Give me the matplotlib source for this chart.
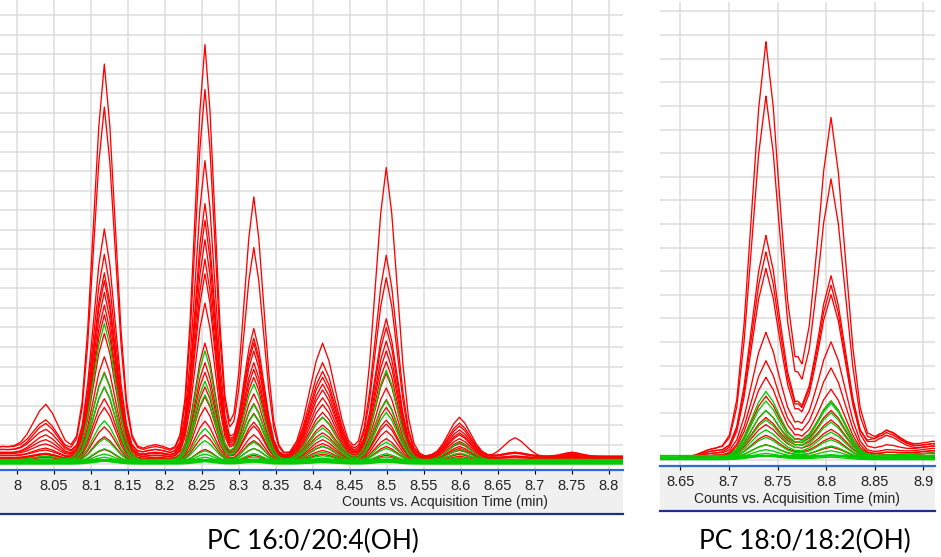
import numpy as np
import matplotlib.pyplot as plt
from matplotlib.patches import Rectangle
from matplotlib.lines import Line2D

plt.rcParams['font.family'] = ['Liberation Sans', 'DejaVu Sans']

# shape of one chromatographic peak:
# fraction of the apex height at offsets given in half-widths
shape_offsets = [-1.75, -1.5, -1.25, -1.0, -0.75, -0.5, -0.25, 0.0, 0.25, 0.5, 0.75, 1.0, 1.25, 1.5, 1.75]
shape_levels = [0.0, 0.011, 0.044, 0.135, 0.32, 0.58, 0.84, 1.0, 0.84, 0.58, 0.32, 0.135, 0.044, 0.011, 0.0]

# ---------------- PC 16:0/20:4(OH) ----------------
left_title = 'PC 16:0/20:4(OH)'
left_ticks = [8.0, 8.05, 8.1, 8.15, 8.2, 8.25, 8.3, 8.35, 8.4, 8.45, 8.5, 8.55, 8.6, 8.65, 8.7, 8.75, 8.8]
left_tick_labels = ['8', '8.05', '8.1', '8.15', '8.2', '8.25', '8.3', '8.35', '8.4', '8.45',
                    '8.5', '8.55', '8.6', '8.65', '8.7', '8.75', '8.8']
left_peak_times = [7.980, 8.039, 8.118, 8.187, 8.254, 8.320, 8.413, 8.499, 8.598, 8.673, 8.750]
left_peak_widths = [0.080, 0.034, 0.030, 0.042, 0.027, 0.027, 0.035, 0.030, 0.030, 0.030, 0.026]
# one row per trace: height of each peak above the trace baseline, last value = baseline
left_red = [
    [0.5, 2.5, 20.1, 0.6, 21.1, 13.3, 5.8, 14.8, 2.0, 0.2, 0.1, 0.4],
    [0.5, 1.7, 17.9, 0.5, 18.8, 10.7, 4.8, 10.3, 1.7, 0.2, 0.2, 0.4],
    [0.4, 1.6, 11.7, 0.4, 15.2, 6.6, 4.4, 9.2, 1.6, 0.2, 0.1, 0.35],
    [0.4, 1.3, 10.4, 0.4, 13.0, 6.1, 4.1, 7.1, 1.4, 1.0, 0.2, 0.35],
    [0.3, 1.1, 9.5, 0.3, 12.2, 5.9, 3.8, 6.7, 1.3, 0.1, 0.1, 0.3],
    [0.3, 0.85, 9.1, 0.3, 11.2, 5.5, 3.5, 6.0, 1.2, 0.1, 0.3, 0.3],
    [0.25, 0.65, 8.5, 0.25, 10.2, 4.9, 3.1, 5.5, 1.0, 0.1, 0.1, 0.3],
    [0.2, 0.5, 7.9, 0.2, 9.5, 4.6, 2.8, 5.0, 0.9, 0.1, 0.1, 0.25],
    [0.2, 0.4, 7.4, 0.2, 8.0, 4.2, 2.4, 4.4, 0.8, 0.0, 0.1, 0.25],
    [0.15, 0.3, 6.5, 0.15, 6.0, 3.4, 2.2, 3.7, 0.7, 0.0, 0.1, 0.2],
    [0.1, 0.3, 5.3, 0.1, 5.0, 2.9, 1.8, 3.1, 0.6, 0.0, 0.0, 0.2],
    [0.1, 0.25, 4.5, 0.1, 4.5, 2.4, 1.4, 2.7, 0.5, 0.0, 0.0, 0.2],
    [0.1, 0.2, 3.8, 0.05, 3.8, 2.0, 1.1, 2.1, 0.4, 0.0, 0.0, 0.15],
    [0.0, 0.2, 3.2, 0.05, 3.3, 1.8, 0.9, 1.9, 0.35, 0.0, 0.0, 0.15],
    [0.0, 0.1, 2.8, 0.0, 2.8, 1.4, 0.8, 1.6, 0.3, 0.0, 0.0, 0.1],
    [0.0, 0.1, 1.8, 0.0, 2.1, 1.1, 0.6, 1.2, 0.2, 0.0, 0.0, 0.1],
    [0.0, 0.0, 1.3, 0.0, 1.4, 0.7, 0.4, 0.8, 0.1, 0.0, 0.0, 0.1],
    [0.0, 0.0, 0.7, 0.0, 0.7, 0.4, 0.2, 0.4, 0.1, 0.0, 0.0, 0.05],
]
left_green = [
    [0.0, 0.2, 7.0, 0.0, 5.6, 3.9, 2.2, 4.6, 0.9, 0.0, 0.0, 0.2],
    [0.0, 0.1, 4.5, 0.0, 4.1, 2.9, 1.7, 3.1, 0.6, 0.0, 0.0, 0.15],
    [0.0, 0.1, 3.8, 0.0, 3.4, 2.4, 1.3, 2.5, 0.4, 0.0, 0.0, 0.15],
    [0.0, 0.0, 2.1, 0.0, 1.7, 1.0, 0.8, 1.0, 0.2, 0.0, 0.0, 0.12],
    [0.0, 0.0, 1.2, 0.0, 1.1, 0.7, 0.5, 0.7, 0.1, 0.0, 0.0, 0.1],
    [0.0, 0.0, 0.7, 0.0, 0.6, 0.45, 0.35, 0.45, 0.1, 0.0, 0.0, 0.08],
    [0.0, 0.0, 0.45, 0.0, 0.45, 0.3, 0.25, 0.3, 0.05, 0.0, 0.0, 0.06],
    [0.0, 0.0, 0.3, 0.0, 0.3, 0.2, 0.15, 0.2, 0.0, 0.0, 0.0, 0.05],
    [0.0, 0.0, 0.15, 0.0, 0.12, 0.1, 0.08, 0.1, 0.0, 0.0, 0.0, 0.0],
    [0.0, 0.0, 0.1, 0.0, 0.1, 0.08, 0.05, 0.08, 0.0, 0.0, 0.0, 0.04],
    [0.0, 0.0, 0.1, 0.0, 0.1, 0.05, 0.05, 0.05, 0.0, 0.0, 0.0, 0.08],
    [0.0, 0.0, 0.05, 0.0, 0.05, 0.05, 0.0, 0.05, 0.0, 0.0, 0.0, 0.12],
    [0.0, 0.0, 0.05, 0.0, 0.05, 0.0, 0.0, 0.05, 0.0, 0.0, 0.0, 0.16],
    [0.0, 0.0, 0.0, 0.0, 0.0, 0.0, 0.0, 0.0, 0.0, 0.0, 0.0, 0.2],
    [0.0, 0.0, 0.0, 0.0, 0.0, 0.0, 0.0, 0.0, 0.0, 0.0, 0.0, 0.25],
]

# ---------------- PC 18:0/18:2(OH) ----------------
right_title = 'PC 18:0/18:2(OH)'
right_ticks = [8.65, 8.7, 8.75, 8.8, 8.85, 8.9]
right_tick_labels = ['8.65', '8.7', '8.75', '8.8', '8.85', '8.9']
right_peak_times = [8.685, 8.738, 8.771, 8.805, 8.862, 8.910]
right_peak_widths = [0.025, 0.030, 0.022, 0.030, 0.028, 0.045]
right_red = [
    [0.4, 17.6, 1.3, 14.4, 1.1, 0.6, 0.1],
    [0.4, 15.3, 1.1, 11.8, 1.0, 0.6, 0.1],
    [0.3, 9.4, 0.8, 7.7, 0.9, 0.5, 0.1],
    [0.3, 8.7, 0.8, 7.3, 1.1, 0.7, 0.1],
    [0.2, 8.0, 0.7, 6.9, 0.5, 0.5, 0.1],
    [0.2, 5.3, 0.6, 4.9, 0.3, 0.4, 0.1],
    [0.1, 4.1, 0.5, 3.8, 0.2, 0.3, 0.1],
    [0.1, 3.4, 0.4, 2.9, 0.2, 0.3, 0.1],
    [0.1, 2.6, 0.35, 2.4, 0.1, 0.2, 0.1],
    [0.1, 2.0, 0.3, 2.0, 0.1, 0.2, 0.1],
    [0.0, 1.7, 0.25, 1.6, 0.1, 0.2, 0.1],
    [0.0, 1.4, 0.2, 1.2, 0.0, 0.1, 0.1],
    [0.0, 1.0, 0.15, 0.9, 0.0, 0.1, 0.05],
    [0.0, 0.6, 0.1, 0.5, 0.0, 0.1, 0.05],
]
right_green = [
    [0.0, 2.8, 0.3, 2.4, 0.1, 0.2, 0.1],
    [0.0, 2.4, 0.25, 2.3, 0.0, 0.1, 0.1],
    [0.0, 2.0, 0.2, 1.9, 0.0, 0.0, 0.1],
    [0.0, 1.6, 0.15, 1.5, 0.0, 0.0, 0.1],
    [0.0, 1.2, 0.12, 1.1, 0.0, 0.0, 0.08],
    [0.0, 0.9, 0.1, 0.8, 0.0, 0.0, 0.06],
    [0.0, 0.6, 0.08, 0.55, 0.0, 0.0, 0.05],
    [0.0, 0.4, 0.05, 0.35, 0.0, 0.0, 0.04],
    [0.0, 0.25, 0.03, 0.2, 0.0, 0.0, 0.03],
    [0.0, 0.15, 0.02, 0.1, 0.0, 0.0, 0.02],
    [0.0, 0.1, 0.0, 0.1, 0.0, 0.0, 0.08],
    [0.0, 0.05, 0.0, 0.05, 0.0, 0.0, 0.14],
    [0.0, 0.0, 0.0, 0.0, 0.0, 0.0, 0.2],
]

RED = '#ff0000'
GREEN = '#00cc00'
GRID = '#dcdcdc'
W, H = 941, 557


def box(x0, y0, x1, y1):
    # pixel box (y measured from the top) -> figure fraction rectangle
    return [x0 / W, 1 - y1 / H, (x1 - x0) / W, (y1 - y0) / H]


def trace(times, widths, row, xlim):
    offs = np.array(shape_offsets)
    knots = [c + w * offs for c, w in zip(times, widths)] + [np.array(xlim)]
    t = np.unique(np.concatenate(knots))
    y = np.full(t.shape, row[-1], dtype=float)
    for c, w, h in zip(times, widths, row[:-1]):
        y += h * np.interp(t, c + w * offs, shape_levels, left=0, right=0)
    return t, y


def panel(rect, xlim, ylim, times, widths, reds, greens, ticks, labels):
    ax = fig.add_axes(rect)
    for row in reds:
        t, y = trace(times, widths, row, xlim)
        ax.plot(t, y, color=RED, lw=0.95, zorder=3)
    for row in greens:
        t, y = trace(times, widths, row, xlim)
        ax.plot(t, y, color=GREEN, lw=0.95, zorder=4)
    ax.set_xlim(xlim)
    ax.set_ylim(ylim)
    ax.set_xticks(ticks)
    ax.set_xticklabels(labels)
    ax.set_yticks(np.arange(0, int(ylim[1]) + 1))
    ax.tick_params(axis='y', left=False, labelleft=False)
    ax.tick_params(axis='x', direction='out', length=3, width=0.8, pad=3.5,
                   labelsize=10.5, labelcolor='#222222')
    ax.grid(True, color=GRID, lw=1.1)
    ax.set_axisbelow(True)
    for s in ['top', 'left', 'right']:
        ax.spines[s].set_visible(False)
    ax.spines['bottom'].set_color('#2e6bd1')
    ax.spines['bottom'].set_linewidth(1.6)
    return ax


fig = plt.figure(figsize=(W / 100, H / 100), dpi=100)

# grey bands under the plots, with the dark bottom rule
for x0, x1, y0, y1 in [(0, 623, 470, 515), (660, 935, 466, 512)]:
    fig.patches.append(Rectangle((x0 / W, 1 - y1 / H), (x1 - x0) / W, (y1 - y0) / H,
                                 transform=fig.transFigure, facecolor='#f0f0f0',
                                 edgecolor='none', zorder=-1))
    fig.lines.append(Line2D([x0 / W, x1 / W], [1 - (y1 - 1) / H] * 2, transform=fig.transFigure,
                            color='#1f2f8a', lw=1.6))

panel(box(0, 0, 623, 469.5), (7.977, 8.819), (-0.28, 23.79),
      left_peak_times, left_peak_widths, left_red, left_green, left_ticks, left_tick_labels)
panel(box(660, 2, 935, 465.5), (8.629, 8.912), (-0.23, 19.4),
      right_peak_times, right_peak_widths, right_red, right_green, right_ticks, right_tick_labels)

fig.text(548 / W, 1 - 502 / H, 'Counts vs. Acquisition Time (min)', ha='right', va='center',
         fontsize=10, color='#222222')
fig.text(900 / W, 1 - 499 / H, 'Counts vs. Acquisition Time (min)', ha='right', va='center',
         fontsize=10, color='#222222')

fig.text(313 / W, 1 - 541 / H, left_title, ha='center', va='center', fontsize=19, family='Lato')
fig.text(805 / W, 1 - 541 / H, right_title, ha='center', va='center', fontsize=19, family='Lato')

fig.savefig('out.png', dpi=100)
